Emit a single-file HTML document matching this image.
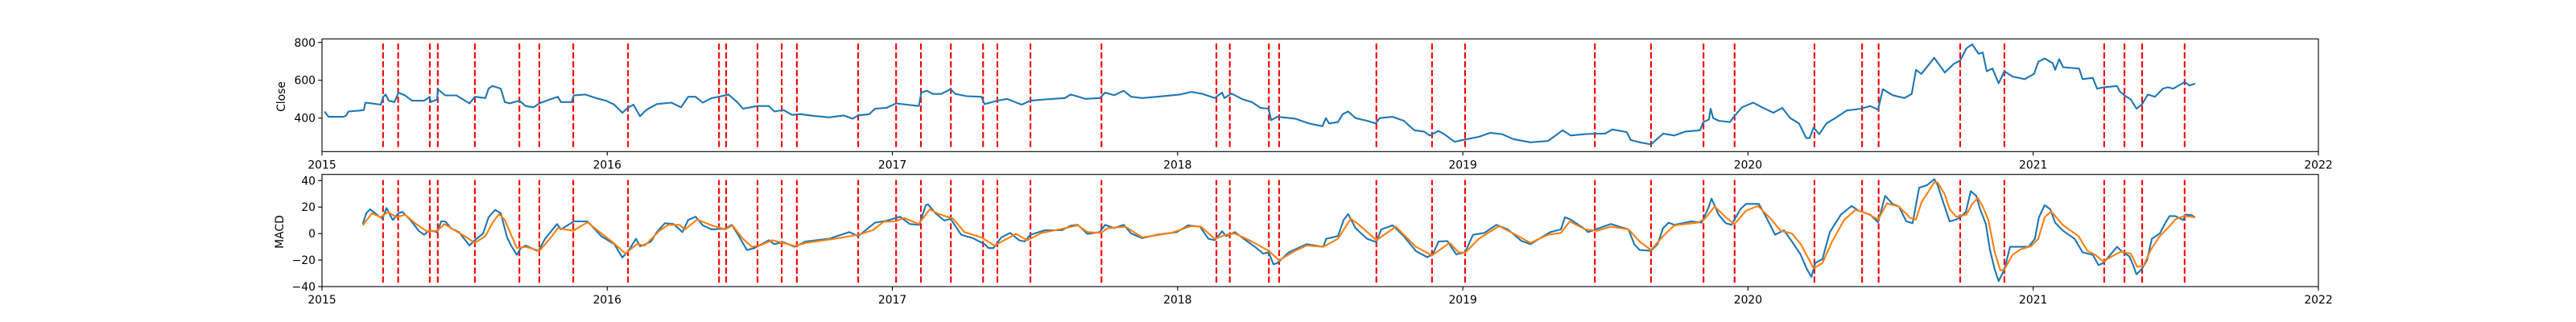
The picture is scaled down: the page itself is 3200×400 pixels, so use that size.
<!DOCTYPE html>
<html><head><meta charset="utf-8"><style>
html,body{margin:0;padding:0;background:#fff;}
svg{display:block;font-family:"DejaVu Sans","Liberation Sans",sans-serif;}
</style></head><body>
<svg id="fig" width="3200" height="400" viewBox="0 0 3200 400" xmlns="http://www.w3.org/2000/svg">
<rect width="3200" height="400" fill="#fff"/>
</svg>
<script>
const closeX=[2015.009,2015.023,2015.048,2015.076,2015.085,2015.093,2015.133,2015.147,2015.152,2015.175,2015.206,2015.215,2015.223,2015.234,2015.254,2015.268,2015.291,2015.316,2015.358,2015.378,2015.381,2015.404,2015.406,2015.432,2015.471,2015.517,2015.536,2015.573,2015.584,2015.598,2015.627,2015.641,2015.658,2015.692,2015.714,2015.742,2015.762,2015.799,2015.827,2015.838,2015.875,2015.883,2015.923,2015.960,2015.996,2016.025,2016.053,2016.073,2016.092,2016.115,2016.137,2016.174,2016.225,2016.259,2016.284,2016.310,2016.335,2016.366,2016.392,2016.425,2016.456,2016.476,2016.527,2016.567,2016.586,2016.617,2016.648,2016.677,2016.727,2016.778,2016.829,2016.860,2016.880,2016.919,2016.939,2016.979,2017.013,2017.050,2017.093,2017.101,2017.121,2017.142,2017.171,2017.204,2017.221,2017.261,2017.312,2017.323,2017.368,2017.402,2017.453,2017.484,2017.535,2017.605,2017.625,2017.653,2017.676,2017.727,2017.746,2017.777,2017.811,2017.837,2017.876,2017.927,2018.009,2018.048,2018.088,2018.130,2018.156,2018.164,2018.189,2018.229,2018.260,2018.291,2018.319,2018.328,2018.350,2018.412,2018.460,2018.508,2018.520,2018.531,2018.562,2018.579,2018.598,2018.624,2018.664,2018.694,2018.709,2018.754,2018.793,2018.830,2018.864,2018.884,2018.915,2018.935,2018.971,2019.008,2019.056,2019.096,2019.138,2019.177,2019.237,2019.299,2019.350,2019.378,2019.426,2019.462,2019.499,2019.524,2019.575,2019.589,2019.620,2019.660,2019.702,2019.742,2019.781,2019.832,2019.843,2019.863,2019.869,2019.878,2019.897,2019.937,2019.948,2019.979,2020.018,2020.049,2020.089,2020.120,2020.148,2020.179,2020.204,2020.216,2020.230,2020.250,2020.275,2020.306,2020.346,2020.397,2020.428,2020.456,2020.473,2020.507,2020.549,2020.574,2020.589,2020.608,2020.653,2020.690,2020.721,2020.744,2020.766,2020.786,2020.809,2020.823,2020.837,2020.857,2020.879,2020.899,2020.927,2020.970,2021.003,2021.018,2021.040,2021.068,2021.077,2021.091,2021.105,2021.161,2021.173,2021.209,2021.224,2021.249,2021.294,2021.303,2021.320,2021.342,2021.362,2021.382,2021.402,2021.427,2021.455,2021.472,2021.491,2021.531,2021.548,2021.568];
const closeY=[435,407,407,407,414,435,440,443,482,478,471,513,525,492,485,535,520,492,492,513,485,499,553,520,520,478,513,506,556,570,556,485,478,492,464,457,478,499,513,485,485,520,525,506,492,471,428,455,471,410,443,474,482,457,513,513,482,506,513,525,485,450,464,464,435,443,417,421,411,404,414,397,414,421,450,454,478,471,464,535,545,528,528,553,528,516,513,474,492,502,471,492,499,506,525,513,502,506,535,521,545,513,506,513,525,539,528,506,535,506,530,499,485,454,450,389,407,397,372,357,400,372,379,421,435,400,386,372,400,407,386,336,329,308,332,315,275,287,301,322,315,289,272,279,336,308,315,318,318,340,326,284,272,261,318,308,329,336,379,393,450,400,386,379,403,457,482,457,428,454,400,372,294,294,350,315,372,400,440,450,464,445,553,521,506,528,655,634,719,641,686,705,769,790,740,747,648,662,584,648,620,606,634,698,715,691,655,712,669,662,606,613,556,563,570,542,520,499,450,474,525,513,556,563,556,591,573,582];
const macdX=[2015.143,2015.155,2015.169,2015.198,2015.212,2015.226,2015.248,2015.268,2015.282,2015.310,2015.339,2015.358,2015.378,2015.404,2015.418,2015.432,2015.452,2015.480,2015.517,2015.536,2015.565,2015.584,2015.607,2015.627,2015.649,2015.663,2015.683,2015.697,2015.714,2015.754,2015.762,2015.782,2015.824,2015.838,2015.883,2015.931,2015.979,2016.025,2016.053,2016.073,2016.101,2016.115,2016.124,2016.154,2016.174,2016.202,2016.233,2016.264,2016.284,2016.310,2016.335,2016.366,2016.414,2016.437,2016.456,2016.490,2016.516,2016.567,2016.586,2016.617,2016.657,2016.696,2016.778,2016.849,2016.880,2016.939,2016.979,2017.027,2017.061,2017.094,2017.117,2017.125,2017.151,2017.182,2017.204,2017.241,2017.283,2017.323,2017.337,2017.354,2017.382,2017.413,2017.444,2017.464,2017.484,2017.535,2017.594,2017.625,2017.650,2017.684,2017.727,2017.746,2017.777,2017.811,2017.837,2017.876,2017.927,2017.997,2018.037,2018.079,2018.108,2018.130,2018.156,2018.170,2018.201,2018.229,2018.271,2018.300,2018.319,2018.336,2018.350,2018.390,2018.452,2018.511,2018.521,2018.562,2018.582,2018.598,2018.624,2018.664,2018.697,2018.714,2018.754,2018.793,2018.836,2018.875,2018.895,2018.915,2018.946,2018.977,2019.008,2019.036,2019.076,2019.118,2019.158,2019.206,2019.237,2019.307,2019.344,2019.358,2019.378,2019.420,2019.440,2019.479,2019.519,2019.581,2019.601,2019.620,2019.660,2019.683,2019.702,2019.722,2019.742,2019.801,2019.838,2019.863,2019.872,2019.897,2019.922,2019.942,2019.973,2019.993,2020.038,2020.064,2020.095,2020.126,2020.154,2020.185,2020.205,2020.222,2020.236,2020.261,2020.287,2020.326,2020.363,2020.388,2020.428,2020.456,2020.481,2020.507,2020.529,2020.555,2020.577,2020.600,2020.628,2020.653,2020.665,2020.690,2020.707,2020.730,2020.744,2020.764,2020.781,2020.800,2020.814,2020.834,2020.848,2020.865,2020.879,2020.899,2020.919,2020.984,2021.006,2021.020,2021.040,2021.060,2021.077,2021.105,2021.145,2021.173,2021.209,2021.229,2021.246,2021.266,2021.294,2021.314,2021.337,2021.351,2021.362,2021.379,2021.399,2021.416,2021.444,2021.464,2021.478,2021.498,2021.526,2021.534,2021.554,2021.568];
const macdY=[7.2,15.3,18.3,13.3,11.2,19.3,10.2,15.3,16.3,10.2,2.1,-0.9,2.5,1.1,9.2,9.2,4.1,1.1,-9.0,-5.0,0.1,12.3,17.9,15.3,-2.9,-9.0,-16.1,-11.0,-9.0,-13.0,-12.0,-3.9,7.2,3.1,9.2,9.2,-1.9,-8.0,-18.1,-13.5,-3.9,-9.5,-9.0,-6.0,1.1,7.8,7.2,1.1,10.2,12.7,6.2,3.1,3.7,6.6,0.1,-12.4,-11.0,-5.0,-8.0,-6.4,-10.0,-6.0,-3.9,1.1,-1.9,8.2,9.6,12.7,7.2,6.6,21.4,22.0,15.3,9.8,11.2,-0.9,-3.5,-8.0,-11.0,-11.0,-2.9,0.5,-5.0,-6.0,-0.9,2.5,2.5,6.0,6.6,-0.3,1.1,6.6,4.1,6.6,0.1,-3.5,-0.9,1.1,6.2,5.2,-3.9,-5.0,1.7,-1.9,1.1,-3.5,-10.0,-15.1,-14.1,-23.2,-22.2,-14.1,-8.0,-10.0,-3.9,-1.9,10.2,14.7,4.1,-3.9,-6.4,3.1,6.2,-1.9,-13.2,-17.8,-15.7,-6.0,-5.6,-15.7,-14.1,-0.9,0.5,6.6,3.1,-5.6,-8.0,1.1,3.1,12.3,10.6,4.6,1.1,4.1,7.2,3.1,-8.0,-12.4,-13.0,-8.0,4.1,8.2,6.6,9.2,8.2,20.4,26.4,14.3,7.8,6.6,18.3,22.4,22.4,12.3,-0.9,2.5,-6.0,-16.1,-26.2,-32.7,-22.2,-19.2,1.1,14.3,20.8,17.3,14.3,8.6,28.4,22.4,20.4,9.2,7.8,34.5,36.5,41.0,36.5,20.0,9.2,10.6,12.3,16.3,32.0,28.5,18.3,7.2,-12.0,-27.2,-35.9,-27.2,-10.0,-10.0,-3.9,12.3,21.4,18.3,8.2,2.1,-3.9,-14.1,-16.1,-23.8,-22.2,-17.1,-10.0,-14.1,-17.1,-24.2,-30.7,-27.2,-20.2,-3.9,0.1,8.2,13.2,13.2,10.2,14.3,13.9,12.3];
const sigX=[2015.143,2015.175,2015.206,2015.231,2015.262,2015.291,2015.330,2015.367,2015.404,2015.429,2015.460,2015.500,2015.536,2015.573,2015.598,2015.621,2015.641,2015.683,2015.714,2015.762,2015.799,2015.827,2015.881,2015.931,2015.968,2016.016,2016.064,2016.104,2016.132,2016.183,2016.214,2016.253,2016.273,2016.315,2016.366,2016.414,2016.439,2016.476,2016.507,2016.535,2016.578,2016.617,2016.657,2016.696,2016.798,2016.880,2016.931,2016.970,2017.010,2017.041,2017.092,2017.131,2017.163,2017.213,2017.252,2017.312,2017.357,2017.402,2017.433,2017.473,2017.523,2017.585,2017.650,2017.684,2017.732,2017.755,2017.817,2017.876,2017.978,2018.048,2018.082,2018.130,2018.170,2018.201,2018.260,2018.319,2018.356,2018.412,2018.452,2018.511,2018.562,2018.607,2018.633,2018.697,2018.765,2018.836,2018.892,2018.954,2018.985,2019.008,2019.056,2019.127,2019.177,2019.237,2019.299,2019.344,2019.375,2019.429,2019.471,2019.519,2019.581,2019.620,2019.660,2019.702,2019.742,2019.824,2019.849,2019.883,2019.922,2019.953,2019.993,2020.035,2020.075,2020.115,2020.154,2020.185,2020.230,2020.261,2020.295,2020.337,2020.377,2020.416,2020.456,2020.487,2020.529,2020.569,2020.589,2020.608,2020.653,2020.665,2020.690,2020.707,2020.730,2020.766,2020.786,2020.806,2020.823,2020.843,2020.865,2020.885,2020.899,2020.927,2020.955,2020.992,2021.018,2021.040,2021.063,2021.105,2021.159,2021.190,2021.218,2021.246,2021.285,2021.308,2021.342,2021.365,2021.387,2021.413,2021.444,2021.472,2021.498,2021.529,2021.568];
const sigY=[6.2,15.3,12.3,16.3,12.3,14.3,7.2,1.7,2.1,7.2,3.1,-1.9,-7.0,-1.9,8.2,14.7,10.2,-11.0,-10.0,-13.0,-3.9,4.1,2.1,8.6,2.1,-6.0,-15.1,-8.0,-9.0,2.1,6.6,6.6,3.1,10.6,6.2,3.1,6.2,-3.9,-10.0,-9.0,-5.0,-7.0,-9.4,-7.0,-3.9,-0.9,2.5,9.0,9.2,11.8,7.2,18.3,14.7,11.2,1.1,-2.9,-9.0,-3.9,-0.3,-5.0,0.5,3.1,6.2,1.1,0.5,4.1,5.2,-2.9,0.5,5.7,5.2,-3.9,-0.9,0.1,-6.0,-13.0,-20.2,-13.0,-9.0,-10.0,-3.9,11.2,7.2,-5.0,5.2,-10.0,-16.5,-7.0,-14.1,-14.5,-3.9,5.7,0.1,-7.0,-0.9,0.5,9.2,3.1,2.1,5.2,3.1,-6.0,-12.4,-1.9,6.2,8.2,11.2,20.4,12.3,7.2,17.3,20.8,12.3,2.1,0.1,-8.0,-26.2,-22.2,-6.0,10.2,17.9,15.3,10.6,22.8,20.4,11.8,10.6,23.4,38.6,38.6,29.5,18.3,12.7,14.3,22.4,26.8,20.4,10.2,-14.1,-27.8,-27.2,-16.1,-12.0,-9.6,-3.9,12.3,16.7,6.2,-1.9,-13.0,-16.1,-21.1,-16.1,-13.7,-15.1,-25.2,-24.2,-12.0,-1.9,4.1,10.6,13.3,12.3];
const signalDates=[2015.214,2015.267,2015.378,2015.406,2015.536,2015.692,2015.762,2015.881,2016.073,2016.392,2016.417,2016.527,2016.612,2016.665,2016.880,2017.013,2017.100,2017.205,2017.318,2017.368,2017.484,2017.733,2018.136,2018.183,2018.320,2018.356,2018.697,2018.892,2019.008,2019.463,2019.660,2019.844,2019.953,2020.233,2020.400,2020.458,2020.744,2020.899,2021.249,2021.320,2021.382,2021.531];
const yearTicks=[2015,2016,2017,2018,2019,2020,2021,2022];
const closeTicks=[400,600,800];
const macdTicks=[-40,-20,0,20,40];

const NS="http://www.w3.org/2000/svg";
const svg=document.getElementById('fig');
const L=400,R=2880;
const xs=v=>L+(v-2015)/7*(R-L);
const panels=[
 {name:'close',top:48.3,bot:188.3,min:223,max:819,ticks:closeTicks,label:'Close',lx:350,ly:120,vf:[0.04,0.96]},
 {name:'macd',top:216.7,bot:356,min:-40,max:44.6,ticks:macdTicks,label:'MACD',lx:348,ly:288,vf:[0.035,0.95]}
];
function mk(tag,attrs,parent){const e=document.createElementNS(NS,tag);for(const k in attrs)e.setAttribute(k,attrs[k]);(parent||svg).appendChild(e);return e;}
function txt(s,attrs,parent){const e=mk('text',attrs,parent);e.textContent=s;return e;}
panels.forEach(p=>{
 const ys=v=>p.bot-(v-p.min)/(p.max-p.min)*(p.bot-p.top);
 p.ys=ys;
 const g=mk('g',{});
 
 
 // vlines
 const vg=mk('g',{},g);
 
 
 const h=p.bot-p.top;
 signalDates.forEach(d=>{
  const ln=mk('line',{x1:xs(d),x2:xs(d),y1:p.bot-p.vf[0]*h,y2:p.bot-p.vf[1]*h,stroke:'#ff0000','stroke-width':2.1,'stroke-dasharray':'7.7 3.3'},vg);
  
  
 });
 function series(X,Y,color,nm){
  const d=X.map((x,i)=>(i?'L':'M')+xs(x).toFixed(1)+' '+ys(Y[i]).toFixed(1)).join(' ');
  const pa=mk('path',{d:d,fill:'none',stroke:color,'stroke-width':2.1,'stroke-linejoin':'round'},g);
  
  
 }
 if(p.name==='close'){series(closeX,closeY,'#1f77b4','close-line');}
 else{series(macdX,macdY,'#1f77b4','macd-line');series(sigX,sigY,'#ff7f0e','signal-line-ema');}
 const fr=mk('rect',{x:L,y:p.top,width:R-L,height:p.bot-p.top,fill:'none',stroke:'#000','stroke-width':1.1},g);
 
 
 p.ticks.forEach(t=>{
  const y=ys(t);
  mk('line',{x1:L-4.9,x2:L,y1:y,y2:y,stroke:'#000','stroke-width':1.1},g);
  const tl=txt(String(t).replace('-','\u2212'),{x:L-8,y:y+5,'text-anchor':'end','font-size':13.9,fill:'#000'},g);
  
  
 });
 yearTicks.forEach(t=>{
  const x=xs(t);
  mk('line',{x1:x,x2:x,y1:p.bot,y2:p.bot+4.9,stroke:'#000','stroke-width':1.1},g);
  const tl=txt(String(t),{x:x,y:p.bot+21,'text-anchor':'middle','font-size':13.9,fill:'#000'},g);
  
  
 });
 const yl=txt(p.label,{x:p.lx,y:p.ly,'text-anchor':'middle','dominant-baseline':'central','font-size':13.9,fill:'#000',transform:`rotate(-90 ${p.lx} ${p.ly})`},g);
 
 
});
</script>
</body></html>
